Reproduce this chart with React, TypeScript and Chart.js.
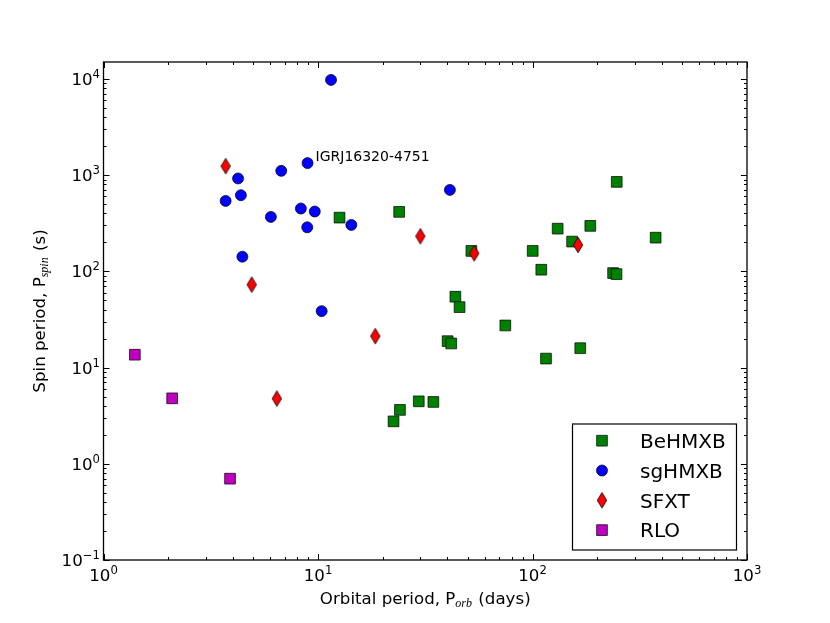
import React, { useEffect, useRef } from 'react';
import { Chart, registerables } from 'chart.js';

Chart.register(...registerables);

// ---- data (orbital period in days, spin period in s) ----
const beOrb = [12.6, 23.9, 51.9, 43.7, 45.7, 40.2, 41.8, 74.7, 100.2, 109.9, 131, 153, 186, 115.6, 167, 237.6, 246.4, 375, 247, 22.5, 24.1, 29.5, 34.5];
const beSpin = [362, 415, 163, 54.5, 42.5, 18.8, 17.8, 27.4, 163, 104, 278, 204, 297, 12.4, 15.9, 96, 93.7, 224, 851, 2.76, 3.63, 4.46, 4.39];

const sgOrb = [11.5, 8.94, 6.74, 4.24, 3.71, 4.37, 6.03, 8.32, 9.66, 8.91, 14.3, 4.44, 10.4, 41.2];
const sgSpin = [9770, 1334, 1109, 924, 540, 619, 368, 450, 419, 287, 304, 142, 38.6, 703];

const sfOrb = [3.71, 4.91, 6.43, 18.5, 30.0, 53.5, 163];
const sfSpin = [1241, 72.7, 4.76, 21.2, 232, 154, 188];

const rloOrb = [1.40, 2.09, 3.89];
const rloSpin = [13.6, 4.79, 0.70];

const seriesLabels = ['BeHMXB', 'sgHMXB', 'SFXT', 'RLO'];

const annotationText = 'IGRJ16320-4751';
const annotationX = 8.94;
const annotationY = 1334;

const xTickValues = [1, 10, 100, 1000];
const xTickExps = ['0', '1', '2', '3'];
const yTickValues = [0.1, 1, 10, 100, 1000, 10000];
const yTickExps = ['\u22121', '0', '1', '2', '3', '4'];

const xMin = 1, xMax = 1000, yMin = 0.1, yMax = 15000;

const SANS = '"DejaVu Sans", sans-serif';
const MATH_IT_FONT = 'italic 12px "Liberation Serif", "DejaVu Serif", serif';

function makeDiamond(): HTMLCanvasElement {
  const c = document.createElement('canvas');
  c.width = 12;
  c.height = 18;
  const g = c.getContext('2d')!;
  g.beginPath();
  g.moveTo(6, 1.2);
  g.lineTo(10.7, 9);
  g.lineTo(6, 16.8);
  g.lineTo(1.3, 9);
  g.closePath();
  g.fillStyle = '#ff0000';
  g.fill();
  g.lineWidth = 0.8;
  g.strokeStyle = '#000';
  g.stroke();
  return c;
}

function drawMarker(ctx: CanvasRenderingContext2D, ds: any, x: number, y: number) {
  const style = ds.pointStyle;
  ctx.save();
  if (typeof style === 'object') {
    ctx.drawImage(style, x - style.width / 2, y - style.height / 2);
  } else {
    ctx.fillStyle = ds.backgroundColor;
    ctx.strokeStyle = ds.borderColor;
    ctx.lineWidth = ds.borderWidth;
    ctx.beginPath();
    if (style === 'rect') {
      const s = Math.SQRT1_2 * ds.pointRadius;
      ctx.rect(x - s, y - s, 2 * s, 2 * s);
    } else {
      ctx.arc(x, y, ds.pointRadius, 0, Math.PI * 2);
    }
    ctx.fill();
    ctx.stroke();
  }
  ctx.restore();
}

function drawPow(ctx: CanvasRenderingContext2D, exp: string, x: number, baseline: number, align: 'center' | 'right') {
  ctx.font = `16.67px ${SANS}`;
  const wb = ctx.measureText('10').width;
  ctx.font = `11.67px ${SANS}`;
  const we = ctx.measureText(exp).width;
  const total = wb + we;
  const start = align === 'center' ? x - total / 2 : x - total;
  ctx.textAlign = 'left';
  ctx.textBaseline = 'alphabetic';
  ctx.font = `16.67px ${SANS}`;
  ctx.fillText('10', start, baseline);
  ctx.font = `11.67px ${SANS}`;
  ctx.fillText(exp, start + wb, baseline - 7);
}

function drawSubTitle(ctx: CanvasRenderingContext2D, pre: string, sub: string, post: string, cx: number, baseline: number) {
  ctx.font = `16.67px ${SANS}`;
  const w1 = ctx.measureText(pre).width;
  const w3 = ctx.measureText(post).width;
  ctx.font = MATH_IT_FONT;
  const w2 = ctx.measureText(sub).width + 1;
  const total = w1 + w2 + w3;
  let x = cx - total / 2;
  ctx.textAlign = 'left';
  ctx.textBaseline = 'alphabetic';
  ctx.font = `16.67px ${SANS}`;
  ctx.fillText(pre, x, baseline);
  x += w1;
  ctx.font = MATH_IT_FONT;
  ctx.fillText(sub, x, baseline + 3);
  x += w2;
  ctx.font = `16.67px ${SANS}`;
  ctx.fillText(post, x, baseline);
}

function tickValues(min: number, max: number) {
  const out: { v: number; major: boolean }[] = [];
  for (let d = Math.floor(Math.log10(min)); d <= Math.ceil(Math.log10(max)); d++) {
    for (let m = 1; m <= 9; m++) {
      const v = m * Math.pow(10, d);
      if (v >= min * 0.9999 && v <= max * 1.0001) out.push({ v, major: m === 1 });
    }
  }
  return out;
}

const decorPlugin = {
  id: 'decor',
  afterDraw(chart: any) {
    const { ctx, chartArea: a, scales } = chart;
    const xs = scales.x;
    const ys = scales.y;
    ctx.save();
    ctx.fillStyle = '#000';
    ctx.strokeStyle = '#000';

    // ticks (inward, all four sides)
    ctx.lineWidth = 1;
    ctx.beginPath();
    for (const t of tickValues(xs.min, xs.max)) {
      const px = Math.round(xs.getPixelForValue(t.v)) + 0.5;
      const len = t.major ? 6 : 3;
      ctx.moveTo(px, a.bottom);
      ctx.lineTo(px, a.bottom - len);
      ctx.moveTo(px, a.top);
      ctx.lineTo(px, a.top + len);
    }
    for (const t of tickValues(ys.min, ys.max)) {
      const py = Math.round(ys.getPixelForValue(t.v)) + 0.5;
      const len = t.major ? 6 : 3;
      ctx.moveTo(a.left, py);
      ctx.lineTo(a.left + len, py);
      ctx.moveTo(a.right, py);
      ctx.lineTo(a.right - len, py);
    }
    ctx.stroke();

    // frame
    ctx.lineWidth = 1.3;
    ctx.strokeRect(a.left, a.top, a.right - a.left, a.bottom - a.top);

    // tick labels
    xTickValues.forEach((v, i) => {
      drawPow(ctx, xTickExps[i], xs.getPixelForValue(v), a.bottom + 21, 'center');
    });
    yTickValues.forEach((v, i) => {
      drawPow(ctx, yTickExps[i], a.left - 3.5, ys.getPixelForValue(v) + 6, 'right');
    });

    // axis titles
    drawSubTitle(ctx, 'Orbital period, P', 'orb', ' (days)', (a.left + a.right) / 2, a.bottom + 44);
    ctx.save();
    ctx.translate(45, (a.top + a.bottom) / 2);
    ctx.rotate(-Math.PI / 2);
    drawSubTitle(ctx, 'Spin period, P', 'spin', ' (s)', 0, 0);
    ctx.restore();

    // annotation
    ctx.font = `14px ${SANS}`;
    ctx.textAlign = 'left';
    ctx.textBaseline = 'alphabetic';
    ctx.fillText(annotationText, xs.getPixelForValue(annotationX) + 8, ys.getPixelForValue(annotationY) - 2);

    // legend
    const lx = 572.5, ly = 424, lw = 164, lh = 126;
    ctx.fillStyle = '#fff';
    ctx.fillRect(lx, ly, lw, lh);
    ctx.lineWidth = 1.2;
    ctx.strokeStyle = '#000';
    ctx.strokeRect(lx, ly, lw, lh);
    chart.data.datasets.forEach((ds: any, i: number) => {
      const ry = ly + 16.7 + i * 29.8;
      drawMarker(ctx, ds, lx + 29.5, ry);
      ctx.fillStyle = '#000';
      ctx.font = `20px ${SANS}`;
      ctx.textAlign = 'left';
      ctx.textBaseline = 'alphabetic';
      ctx.fillText(ds.label, lx + 67.5, ry + 7.3);
    });
    ctx.restore();
  },
};

export default function App() {
  const ref = useRef<HTMLCanvasElement | null>(null);

  useEffect(() => {
    document.body.style.margin = '0';
    const canvas = ref.current;
    if (!canvas) return;
    const diamond = makeDiamond();
    const toPts = (xs: number[], ys: number[]) => xs.map((x, i) => ({ x, y: ys[i] }));
    const chart = new Chart(canvas, {
      type: 'scatter',
      data: {
        datasets: [
          {
            label: seriesLabels[0],
            data: toPts(beOrb, beSpin),
            pointStyle: 'rect',
            pointRadius: 7.6,
            pointHoverRadius: 7.6,
            backgroundColor: '#008000',
            borderColor: '#000',
            borderWidth: 0.7,
            order: 4,
          },
          {
            label: seriesLabels[1],
            data: toPts(sgOrb, sgSpin),
            pointStyle: 'circle',
            pointRadius: 5.5,
            pointHoverRadius: 5.5,
            backgroundColor: '#0000ff',
            borderColor: '#000',
            borderWidth: 0.7,
            order: 3,
          },
          {
            label: seriesLabels[2],
            data: toPts(sfOrb, sfSpin),
            pointStyle: diamond as any,
            pointRadius: 8,
            pointHoverRadius: 8,
            backgroundColor: '#ff0000',
            borderColor: '#000',
            borderWidth: 0.7,
            order: 2,
          },
          {
            label: seriesLabels[3],
            data: toPts(rloOrb, rloSpin),
            pointStyle: 'rect',
            pointRadius: 7.6,
            pointHoverRadius: 7.6,
            backgroundColor: '#bf00bf',
            borderColor: '#000',
            borderWidth: 0.7,
            order: 1,
          },
        ],
      },
      options: {
        animation: false,
        responsive: false,
        events: [],
        layout: { padding: { left: 0, right: 83, top: 62, bottom: 0 } },
        plugins: { legend: { display: false }, tooltip: { enabled: false } },
        scales: {
          x: {
            type: 'logarithmic',
            min: xMin,
            max: xMax,
            grid: { display: false, drawTicks: false },
            border: { display: false },
            ticks: { display: false },
            afterFit: (s: any) => { s.height = 63; },
          },
          y: {
            type: 'logarithmic',
            min: yMin,
            max: yMax,
            grid: { display: false, drawTicks: false },
            border: { display: false },
            ticks: { display: false },
            afterFit: (s: any) => { s.width = 103.5; },
          },
        },
      },
      plugins: [decorPlugin],
    });
    return () => chart.destroy();
  }, []);

  return (
    <div style={{ width: 830, height: 623, background: '#fff' }}>
      <canvas ref={ref} width={830} height={623} style={{ display: 'block' }} />
    </div>
  );
}
